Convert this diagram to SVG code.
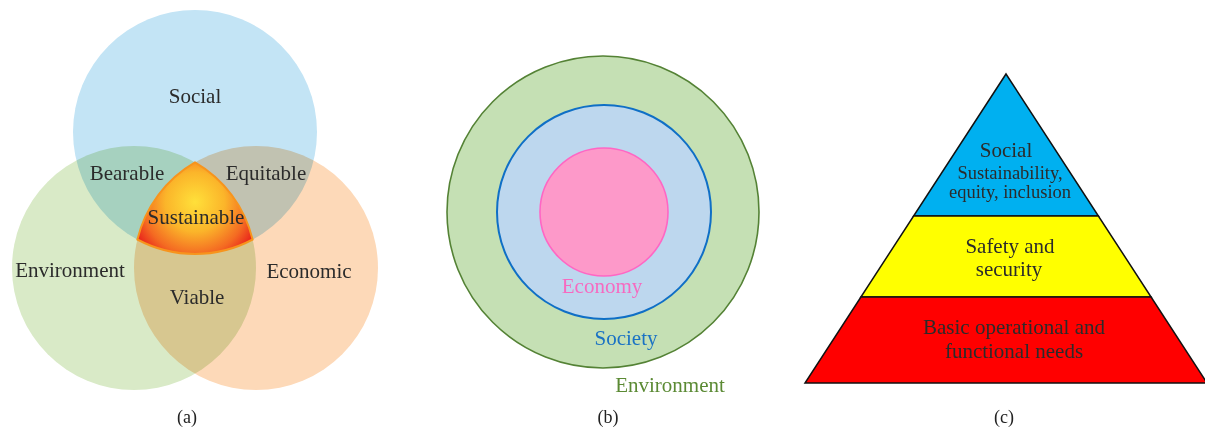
<svg xmlns="http://www.w3.org/2000/svg" width="1205" height="430" viewBox="0 0 1205 430">
  <style>
    .lbl { font-family: "Liberation Serif", "Times New Roman", serif; font-size: 21px; fill: #2b2b2b; text-anchor: middle; }
    .cap { font-family: "Liberation Serif", "Times New Roman", serif; font-size: 18px; fill: #222; text-anchor: middle; }
    .small { font-size: 18.5px; }
    .venn { mix-blend-mode: multiply; }
    .tier { stroke: #111; stroke-width: 1.5; stroke-linejoin: miter; }
  </style>
  <defs>
    <radialGradient id="coreGrad" gradientUnits="userSpaceOnUse" cx="195" cy="202" r="66">
      <stop offset="0" stop-color="#ffe03a"/>
      <stop offset="0.45" stop-color="#fbb52a"/>
      <stop offset="0.8" stop-color="#f46a22"/>
      <stop offset="1" stop-color="#ea2a1c"/>
    </radialGradient>
  </defs>
  <rect width="1205" height="430" fill="#ffffff"/>

  <!-- (a) three overlapping circles -->
  <g id="venn" style="isolation: isolate">
    <g id="social"><circle class="venn" cx="195" cy="132" r="122" fill="#c3e4f5"/></g>
    <g id="environment"><circle class="venn" cx="134" cy="268" r="122" fill="#d9eac7"/></g>
    <g id="economic"><circle class="venn" cx="256" cy="268" r="122" fill="#fdd9b8"/></g>
    <g id="sustainable">
      <path d="M195,162.3 A122,122 0 0 0 137.4,239.5 A122,122 0 0 0 252.6,239.5 A122,122 0 0 0 195,162.3 Z" fill="url(#coreGrad)" stroke="#f7941d" stroke-width="2"/>
    </g>
  </g>
  <g id="venn-labels">
    <text class="lbl" x="195" y="103">Social</text>
    <text class="lbl" x="127" y="180">Bearable</text>
    <text class="lbl" x="266" y="180">Equitable</text>
    <text class="lbl" x="196" y="224">Sustainable</text>
    <text class="lbl" x="70" y="277">Environment</text>
    <text class="lbl" x="309" y="278">Economic</text>
    <text class="lbl" x="197" y="304">Viable</text>
  </g>
  <text class="cap" x="187" y="423">(a)</text>

  <!-- (b) nested circles -->
  <g id="nested">
    <g id="env-ring"><circle cx="603" cy="212" r="156" fill="#c5e0b4" stroke="#548235" stroke-width="1.6"/></g>
    <g id="society-ring"><circle cx="604" cy="212" r="107" fill="#bdd7ee" stroke="#0f6fc6" stroke-width="2"/></g>
    <g id="economy-core"><circle cx="604" cy="212" r="64" fill="#fd99c9" stroke="#ff66c4" stroke-width="1.6"/></g>
  </g>
  <g id="nested-labels">
    <text class="lbl" x="602" y="293" style="fill:#f66ac0">Economy</text>
    <text class="lbl" x="626" y="345" style="fill:#1a72c4">Society</text>
    <text class="lbl" x="670" y="392" style="fill:#5b8a34">Environment</text>
  </g>
  <text class="cap" x="608" y="423">(b)</text>

  <!-- (c) pyramid -->
  <g id="pyramid">
    <g id="tier-social">
      <polygon class="tier" points="1006,74 1098.4,216 913.6,216" fill="#00b0f0"/>
      <text class="lbl" x="1006" y="157">Social</text>
      <text class="lbl small" x="1010" y="179">Sustainability,</text>
      <text class="lbl small" x="1010" y="198">equity, inclusion</text>
    </g>
    <g id="tier-safety">
      <polygon class="tier" points="913.6,216 1098.4,216 1151.1,297 860.9,297" fill="#ffff00"/>
      <text class="lbl" x="1010" y="253">Safety and</text>
      <text class="lbl" x="1009" y="276">security</text>
    </g>
    <g id="tier-basic">
      <polygon class="tier" points="860.9,297 1151.1,297 1207,383 805,383" fill="#ff0000"/>
      <text class="lbl" x="1014" y="334">Basic operational and</text>
      <text class="lbl" x="1014" y="358">functional needs</text>
    </g>
  </g>
  <text class="cap" x="1004" y="423">(c)</text>
</svg>
